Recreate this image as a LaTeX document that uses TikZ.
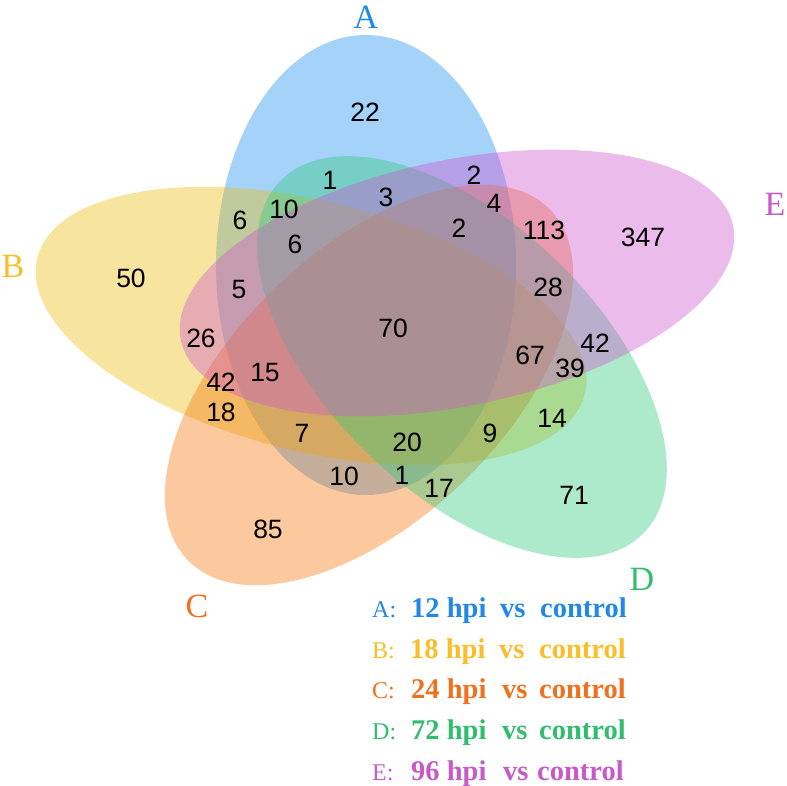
\documentclass[tikz,border=0pt]{standalone}
\usepackage{fontspec}
\setmainfont{Liberation Serif}
\newfontfamily\numfont{Liberation Sans}
\definecolor{cA}{RGB}{30,144,240}
\definecolor{cB}{RGB}{237,190,17}
\definecolor{cC}{RGB}{245,120,10}
\definecolor{cD}{RGB}{50,202,125}
\definecolor{cE}{RGB}{205,87,205}
\definecolor{tA}{RGB}{33,136,232}
\definecolor{tB}{RGB}{250,190,40}
\definecolor{tC}{RGB}{240,112,30}
\definecolor{tD}{RGB}{48,190,110}
\definecolor{tE}{RGB}{198,90,200}
\tikzset{
  setfill/.style={fill=#1, fill opacity=0.4, draw=none},
  num/.style={font=\numfont\fontsize{26.5}{30}\selectfont, inner sep=0pt, text=black},
  setlabel/.style={font=\fontsize{34}{40}\selectfont, inner sep=0pt, text=#1},
  legkey/.style={font=\fontsize{24}{28}\selectfont, inner sep=0pt, anchor=base west, text=#1},
  legtxt/.style={font=\bfseries\fontsize{28.5}{32}\selectfont, inner sep=0pt, anchor=base west, text=#1}
}
\begin{document}
\begin{tikzpicture}[x=1pt,y=-1pt]
\useasboundingbox (0,0) rectangle (787,785);
\fill[white] (0,0) rectangle (787,785);
% ellipses
\fill[setfill=cA] (366,265) ellipse [x radius=150pt, y radius=230pt];
\fill[setfill=cB, rotate around={-14:(311,326)}] (311,326) ellipse [x radius=282pt, y radius=125pt];
\fill[setfill=cC, rotate around={44:(369,385)}] (369,385) ellipse [x radius=252pt, y radius=135pt];
\fill[setfill=cD, rotate around={-44:(462,357)}] (462,357) ellipse [x radius=253pt, y radius=135pt];
\fill[setfill=cE, rotate around={11.7:(457,283)}] (457,283) ellipse [x radius=282pt, y radius=123pt];
% set labels
\node[setlabel=tA] (labA) at (366,17) {A};
\node[setlabel=tB] (labB) at (13,266) {B};
\node[setlabel=tC] (labC) at (197,606) {C};
\node[setlabel=tD] (labD) at (642,579) {D};
\node[setlabel=tE] (labE) at (775,204) {E};
% region counts
\node[num] (r22) at (365,112) {22};
\node[num] (r1a) at (330,180) {1};
\node[num] (r2a) at (474,175) {2};
\node[num] (r3) at (386,197) {3};
\node[num] (r4) at (494,203) {4};
\node[num] (r10a) at (284,209) {10};
\node[num] (r6a) at (240,220) {6};
\node[num] (r2b) at (459,228) {2};
\node[num] (r113) at (544,230) {113};
\node[num] (r347) at (643,237) {347};
\node[num] (r6b) at (295,244) {6};
\node[num] (r50) at (131,278) {50};
\node[num] (r5) at (239,290) {5};
\node[num] (r28) at (548,287) {28};
\node[num] (r70) at (393,328) {70};
\node[num] (r26) at (201,338) {26};
\node[num] (r42a) at (595,343) {42};
\node[num] (r67) at (530,355) {67};
\node[num] (r39) at (570,368) {39};
\node[num] (r15) at (265,373) {15};
\node[num] (r42b) at (221,382) {42};
\node[num] (r18) at (221,412) {18};
\node[num] (r14) at (552,418) {14};
\node[num] (r7) at (302,433) {7};
\node[num] (r9) at (490,433) {9};
\node[num] (r20) at (407,442) {20};
\node[num] (r10b) at (344,476) {10};
\node[num] (r1b) at (402,475) {1};
\node[num] (r17) at (439,488) {17};
\node[num] (r71) at (574,495) {71};
\node[num] (r85) at (268,529) {85};
% legend
\node[legkey=tA] (kA) at (372,617) {A:};
\node[legtxt=tA] (hA) at (411,617) {12 hpi};
\node[legtxt=tA] (vA) at (500,617) {vs};
\node[legtxt=tA] (cA1) at (540,617) {control};
\node[legkey=tB] (kB) at (372,658) {B:};
\node[legtxt=tB] (hB) at (410,658) {18 hpi};
\node[legtxt=tB] (vB) at (499,658) {vs};
\node[legtxt=tB] (cB1) at (539,658) {control};
\node[legkey=tC] (kC) at (372,698) {C:};
\node[legtxt=tC] (hC) at (411,698) {24 hpi};
\node[legtxt=tC] (vC) at (502,698) {vs};
\node[legtxt=tC] (cC1) at (539,698) {control};
\node[legkey=tD] (kD) at (372,739) {D:};
\node[legtxt=tD] (hD) at (411,739) {72 hpi};
\node[legtxt=tD] (vD) at (502,739) {vs};
\node[legtxt=tD] (cD1) at (539,739) {control};
\node[legkey=tE] (kE) at (372,780) {E:};
\node[legtxt=tE] (hE) at (411,780) {96 hpi};
\node[legtxt=tE] (vE) at (503,780) {vs};
\node[legtxt=tE] (cE1) at (537,780) {control};
\end{tikzpicture}
\end{document}
